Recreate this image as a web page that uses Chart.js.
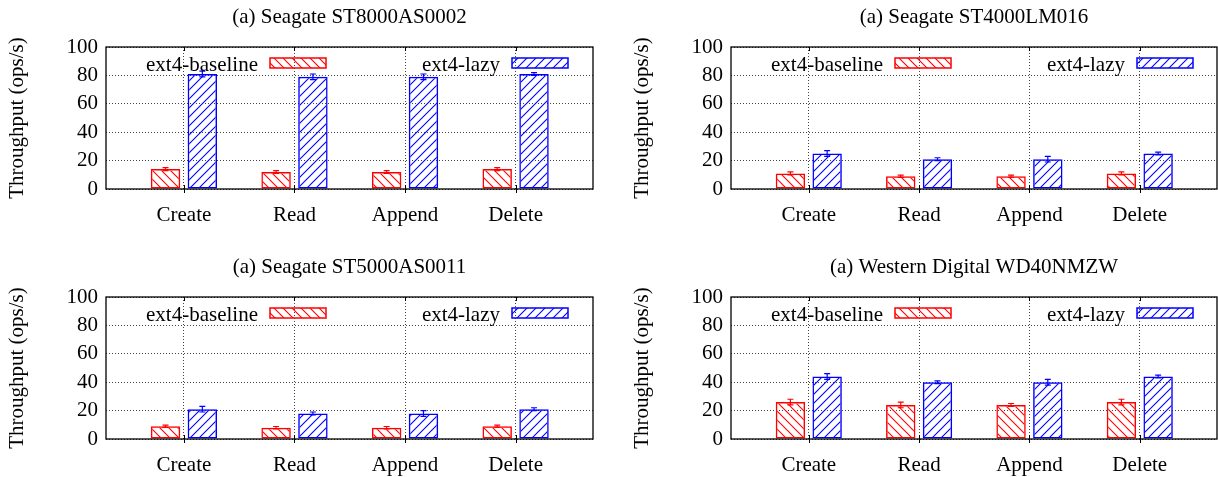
<!DOCTYPE html>
<html>
<head>
<meta charset="utf-8">
<script src="https://cdn.jsdelivr.net/npm/chart.js@4.4.1/dist/chart.umd.min.js"></script>
<style>
  html, body { margin: 0; padding: 0; background: #fff; }
  #wrap { position: relative; width: 1218px; height: 477px; overflow: hidden; background: #fff; }
  #wrap canvas { position: absolute; }
</style>
</head>
<body>
<div id="wrap">
  <canvas id="c1" width="609" height="250" style="left:0px;top:0px"></canvas>
  <canvas id="c2" width="593" height="250" style="left:625px;top:0px"></canvas>
  <canvas id="c3" width="609" height="227" style="left:0px;top:250px"></canvas>
  <canvas id="c4" width="593" height="227" style="left:625px;top:250px"></canvas>
</div>
<script>
// ---- data -------------------------------------------------------------
const operations = ['Create', 'Read', 'Append', 'Delete'];
const seriesNames = ['ext4-baseline', 'ext4-lazy'];
const yTickValues = [0, 20, 40, 60, 80, 100];
const yAxisTitle = 'Throughput (ops/s)';

const panelTitles = [
  '(a) Seagate ST8000AS0002',
  '(a) Seagate ST4000LM016',
  '(a) Seagate ST5000AS0011',
  '(a) Western Digital WD40NMZW'
];

// Seagate ST8000AS0002
const st8000Baseline    = [14, 12, 12, 14];
const st8000BaselineErr = [1, 1, 1, 1];
const st8000Lazy        = [81, 79, 79, 81];
const st8000LazyErr     = [2, 2, 2, 1];

// Seagate ST4000LM016
const st4000Baseline    = [11, 9, 9, 11];
const st4000BaselineErr = [1, 0.8, 0.8, 1];
const st4000Lazy        = [25, 21, 21, 25];
const st4000LazyErr     = [2, 1, 2, 1];

// Seagate ST5000AS0011
const st5000Baseline    = [9, 8, 8, 9];
const st5000BaselineErr = [0.8, 0.8, 0.8, 0.8];
const st5000Lazy        = [21, 18, 18, 21];
const st5000LazyErr     = [2, 1, 2, 1];

// Western Digital WD40NMZW
const wd40Baseline    = [26, 24, 24, 26];
const wd40BaselineErr = [2, 2, 1, 2];
const wd40Lazy        = [44, 40, 40, 44];
const wd40LazyErr     = [2, 1, 2, 1];

// ---- styling ----------------------------------------------------------
const FONT = "'Liberation Serif', 'Times New Roman', serif";
const FONT_SIZE = 21;
const RED = '#ff0000';
const BLUE = '#0000ff';

Chart.defaults.font.family = FONT;
Chart.defaults.font.size = FONT_SIZE;
Chart.defaults.color = '#000';

// diagonal hatch fills: '\' for baseline, '/' for lazy
function hatch(color, dir, size) {
  const c = document.createElement('canvas');
  c.width = size; c.height = size;
  const g = c.getContext('2d');
  g.strokeStyle = color;
  g.lineWidth = 1.1;
  g.beginPath();
  if (dir === '/') {
    g.moveTo(0, size); g.lineTo(size, 0);
    g.moveTo(-1, 1); g.lineTo(1, -1);
    g.moveTo(size - 1, size + 1); g.lineTo(size + 1, size - 1);
  } else {
    g.moveTo(0, 0); g.lineTo(size, size);
    g.moveTo(size - 1, -1); g.lineTo(size + 1, 1);
    g.moveTo(-1, size - 1); g.lineTo(1, size + 1);
  }
  g.stroke();
  return g.createPattern(c, 'repeat');
}

// error bars drawn on top of each bar
const errorBarPlugin = {
  id: 'errorBars',
  afterDatasetsDraw(chart) {
    const { ctx } = chart;
    const yScale = chart.scales.y;
    chart.data.datasets.forEach((ds, d) => {
      const meta = chart.getDatasetMeta(d);
      ctx.save();
      ctx.strokeStyle = ds.borderColor;
      ctx.lineWidth = 1.2;
      meta.data.forEach((bar, i) => {
        const v = ds.data[i].y;
        const e = ds.errors[i];
        const yHi = yScale.getPixelForValue(v + e);
        const yLo = yScale.getPixelForValue(v - e);
        const x = bar.x;
        ctx.beginPath();
        ctx.moveTo(x, yLo); ctx.lineTo(x, yHi);
        ctx.moveTo(x - 3, yHi); ctx.lineTo(x + 3, yHi);
        ctx.moveTo(x - 3, yLo); ctx.lineTo(x + 3, yLo);
        ctx.stroke();
      });
      ctx.restore();
    });
  }
};

// plot frame, x tic marks, panel caption and the in-plot key
const framePlugin = {
  id: 'frameAndKey',
  afterDraw(chart) {
    const { ctx, chartArea: a } = chart;
    const xScale = chart.scales.x;
    ctx.save();
    ctx.strokeStyle = '#000';
    ctx.lineWidth = 1.3;
    ctx.strokeRect(a.left, a.top, a.right - a.left, a.bottom - a.top);
    ctx.lineWidth = 1;
    ctx.beginPath();
    operations.forEach((_, i) => {
      const x = Math.round(xScale.getPixelForValue(i)) + 0.5;
      ctx.moveTo(x, a.bottom - 4); ctx.lineTo(x, a.bottom + 4);
      ctx.moveTo(x, a.top); ctx.lineTo(x, a.top + 4);
    });
    ctx.stroke();

    ctx.font = FONT_SIZE + 'px ' + FONT;
    ctx.textBaseline = 'alphabetic';

    // caption centred over the plot frame
    ctx.fillStyle = '#000';
    ctx.textAlign = 'center';
    ctx.fillText(chart.options.caption, (a.left + a.right) / 2, a.top - 24);

    // key: label text followed by a hatched swatch
    const keyOffsets = [164, 406];
    ctx.textAlign = 'right';
    chart.data.datasets.forEach((ds, d) => {
      const sx = a.left + keyOffsets[d];
      const sy = a.top + 11;
      ctx.fillStyle = '#000';
      ctx.fillText(ds.label, sx - 12, a.top + 23.5);
      ctx.fillStyle = ds.backgroundColor;
      ctx.fillRect(sx, sy, 56, 10);
      ctx.strokeStyle = ds.borderColor;
      ctx.lineWidth = 1.5;
      ctx.strokeRect(sx, sy, 56, 10);
    });
    ctx.restore();
  }
};

function makePanel(canvasId, title, baseline, baselineErr, lazy, lazyErr, rightPad) {
  const canvas = document.getElementById(canvasId);
  const plotBottom = 189;
  return new Chart(canvas, {
    type: 'bar',
    data: {
      datasets: [
        {
          label: seriesNames[0],
          data: operations.map((_, i) => ({ x: i, y: baseline[i] })),
          errors: baselineErr,
          backgroundColor: hatch(RED, '\\', 9),
          borderColor: RED,
          borderWidth: 1.5,
          borderSkipped: false,
          categoryPercentage: 0.666,
          barPercentage: 0.8
        },
        {
          label: seriesNames[1],
          data: operations.map((_, i) => ({ x: i, y: lazy[i] })),
          errors: lazyErr,
          backgroundColor: hatch(BLUE, '/', 9),
          borderColor: BLUE,
          borderWidth: 1.5,
          borderSkipped: false,
          categoryPercentage: 0.666,
          barPercentage: 0.8
        }
      ]
    },
    options: {
      caption: title,
      responsive: false,
      animation: false,
      events: [],
      devicePixelRatio: 1,
      layout: { padding: { left: 0, right: rightPad, top: 47, bottom: 0 } },
      plugins: {
        legend: { display: false },
        tooltip: { enabled: false },
        title: { display: false }
      },
      scales: {
        x: {
          type: 'linear',
          min: -0.705,
          max: 3.7,
          offset: false,
          afterBuildTicks: (scale) => { scale.ticks = operations.map((_, i) => ({ value: i })); },
          afterFit: (scale) => { scale.height = canvas.height - plotBottom; },
          ticks: {
            autoSkip: false,
            maxRotation: 0,
            padding: 14,
            color: '#000',
            font: { family: FONT, size: FONT_SIZE },
            callback: (value) => operations[Math.round(value)]
          },
          grid: { offset: false, drawTicks: false, color: '#444', lineWidth: 1 },
          border: { display: false, dash: [1, 2] }
        },
        y: {
          min: 0,
          max: 100,
          afterBuildTicks: (scale) => { scale.ticks = yTickValues.map(v => ({ value: v })); },
          afterFit: (scale) => { scale.width = 106; },
          ticks: {
            padding: 8,
            color: '#000',
            font: { family: FONT, size: FONT_SIZE }
          },
          grid: { drawTicks: false, color: '#444', lineWidth: 1 },
          border: { display: false, dash: [1, 2] },
          title: {
            display: true,
            text: yAxisTitle,
            color: '#000',
            font: { family: FONT, size: FONT_SIZE, lineHeight: 1.2 },
            padding: { top: 5, bottom: 0 }
          }
        }
      }
    },
    plugins: [errorBarPlugin, framePlugin]
  });
}

makePanel('c1', panelTitles[0], st8000Baseline, st8000BaselineErr, st8000Lazy, st8000LazyErr, 16);
makePanel('c2', panelTitles[1], st4000Baseline, st4000BaselineErr, st4000Lazy, st4000LazyErr, 1);
makePanel('c3', panelTitles[2], st5000Baseline, st5000BaselineErr, st5000Lazy, st5000LazyErr, 16);
makePanel('c4', panelTitles[3], wd40Baseline, wd40BaselineErr, wd40Lazy, wd40LazyErr, 1);
</script>
</body>
</html>
